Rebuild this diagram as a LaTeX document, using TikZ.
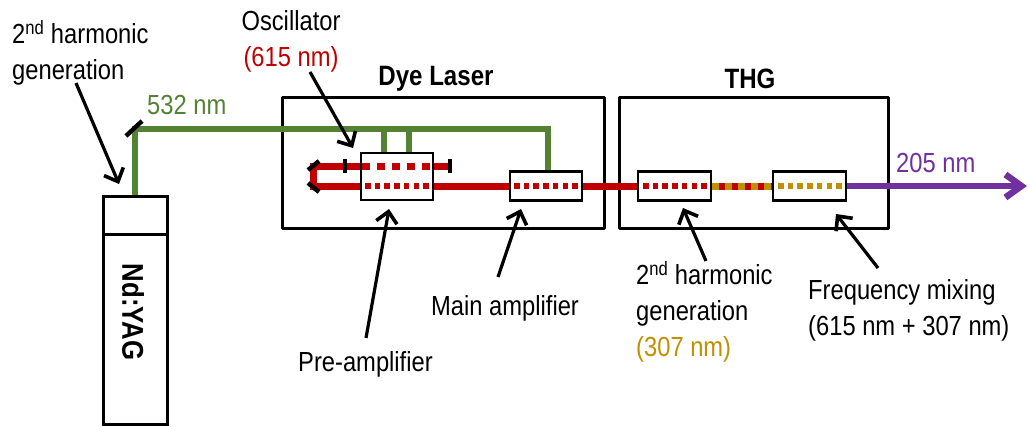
\documentclass[tikz,border=0pt]{standalone}
\usepackage{fontspec}
\setmainfont[FakeStretch=0.86]{Liberation Sans}
\usetikzlibrary{arrows.meta}
\definecolor{grn}{RGB}{84,130,53}
\definecolor{rd}{RGB}{192,0,0}
\definecolor{gld}{RGB}{191,144,0}
\definecolor{prp}{RGB}{112,48,160}
\tikzset{
  x=1pt,y=-1pt,
  lbl/.style={inner sep=0pt,font=\fontsize{27.6}{36}\selectfont,align=center},
  lblb/.style={inner sep=0pt,font=\fontsize{28}{36}\selectfont\bfseries},
  blk/.style={draw=black,line width=2.8pt,fill=white,inner sep=0pt},
  housing/.style={draw=black,line width=3pt,line join=round},
  ptr/.style={draw=black,line width=3.2pt,-{Straight Barb[length=11pt,width=21pt,line width=3.6pt]}},
  mir/.style={draw=black,line width=4.4pt},
  grnb/.style={draw=grn,line width=6.8pt},
  redb/.style={draw=rd,line width=7pt},
  dots/.style={line width=6pt,dash pattern=on 5.5pt off 4.2pt},
}
\begin{document}
\begin{tikzpicture}
\useasboundingbox (0,0) rectangle (1027,426);
% coordinates
\coordinate (gc) at (135,129);
\coordinate (gend) at (548,129);
\coordinate (yagtop) at (135,197);
% housings
\draw[housing] (282,97) rectangle (604,228);
\draw[housing] (619,97) rectangle (888,228);
\node[lblb] (dye) at (436,79) {Dye Laser};
\node[lblb] (thg) at (750,79) {THG};
% Green pump
\draw[grnb,line join=miter] (yagtop) -- (gc) -- (gend) -- (548,172);
\draw[grnb] (384,129) -- (384,153);
\draw[grnb] (409,129) -- (409,153);
\draw[mir] (126,136) -- (142,121);
% red beams
\draw[redb] (345,166) -- (450,166);
\draw[redb,line join=miter] (361,186) -- (313,186) -- (313,166) -- (345,166);
\draw[redb] (433,186) -- (638,186);
% Boxes
\node[blk,minimum width=72pt,minimum height=47pt] (osc) at (397,176.5) {};
\node[blk,minimum width=72pt,minimum height=28.5pt] (amp) at (546,186) {};
\node[blk,minimum width=73pt,minimum height=28.5pt] (shg) at (674.5,186) {};
\node[blk,minimum width=73pt,minimum height=28.5pt] (mix) at (809.5,186) {};
% Beams inside boxes
\draw[rd,line width=7pt,dash pattern=on 8pt off 7pt] (362,166) -- (431,166);
\draw[rd,dots] (365,186) -- (430,186);
\draw[rd,dots] (514,186) -- (580,186);
\draw[rd,dots] (643,186) -- (708,186);
\draw[gld,dots] (778,186) -- (843,186);
% red + gold between crystals
\draw[rd,line width=7pt] (shg.east) -- (mix.west);
\draw[gld,line width=7pt,dash pattern=on 6.5pt off 6.5pt] (shg.east) -- (mix.west);
% Output
\draw[prp,line width=6.8pt,-{Straight Barb[length=16pt,width=23pt,line width=6.5pt]}] (mix.east) -- (1027,186);
% Mirrors
\draw[mir] (345,159) -- (345,173);
\draw[mir] (450,159) -- (450,173);
\draw[mir] (308,170) -- (319,161);
\draw[mir] (308,183) -- (319,192);
% YAG
\node[draw=black,line width=3pt,fill=white,inner sep=0pt,minimum width=64pt,minimum height=228pt] (yagbox) at (135,310) {};
\draw[black,line width=3pt] (yagbox.west |- 0,234) -- (yagbox.east |- 0,234);
\node[lblb,rotate=-90,font=\fontsize{30}{36}\selectfont\bfseries] (yag) at (133,312) {Nd:YAG};
% labels
\node[lbl,align=left,anchor=north west] (l2h) at (12,20.5) {2\textsuperscript{nd} harmonic\\generation};
\node[lbl,text=grn,anchor=west] (l532) at (147,105) {532 nm};
\node[lbl] (losc) at (291,41.5) {Oscillator\\\textcolor{rd}{(615 nm)}};
\node[lbl,anchor=west] (lpre) at (298,364) {Pre-amplifier};
\node[lbl,anchor=west] (lmain) at (431,308) {Main amplifier};
\node[lbl,align=left,anchor=north west] (lsh) at (636,261) {2\textsuperscript{nd} harmonic\\generation\\\textcolor{gld}{(307 nm)}};
\node[lbl,align=left,anchor=north west] (lfm) at (808,279.5) {Frequency mixing\\(615 nm + 307 nm)};
\node[lbl,text=prp,anchor=west] (l205) at (896,163) {205 nm};
% pointers
\draw[ptr] (76,83) -- (119,184);
\draw[ptr] (310,72) -- (353,148);
\draw[ptr] (366,338) -- (389,209);
\draw[ptr] (498,277) -- (521,209);
\draw[ptr] (706,261) -- (683,208);
\draw[ptr] (878,268) -- (836,214);
\end{tikzpicture}
\end{document}
